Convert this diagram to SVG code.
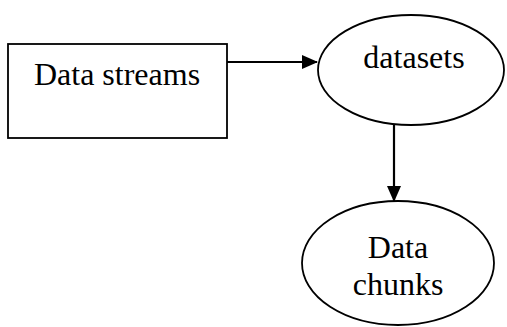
<svg xmlns="http://www.w3.org/2000/svg" width="507" height="327" viewBox="0 0 507 327">
  <style>
    .shape { fill: #ffffff; stroke: #000000; stroke-width: 1.8; }
    .label { font-family: "Liberation Serif", "Times New Roman", serif; font-size: 32px; fill: #000000; text-anchor: middle; }
    .edge { stroke: #000000; stroke-width: 2.2; fill: none; }
  </style>
  <defs>
    <marker id="arrow" markerWidth="16" markerHeight="14" refX="15" refY="7" orient="auto" markerUnits="userSpaceOnUse">
      <path d="M0,0 L16,7 L0,14 Z" fill="#000000"/>
    </marker>
  </defs>
  <rect width="507" height="327" fill="#ffffff"/>

  <g id="connectors">
    <line class="edge" x1="227" y1="62" x2="317" y2="62" marker-end="url(#arrow)"/>
    <line class="edge" x1="394" y1="125" x2="394" y2="201" marker-end="url(#arrow)"/>
  </g>

  <g id="data-streams">
    <rect class="shape" x="8" y="44" width="219" height="94"/>
    <text class="label" x="117" y="85">Data streams</text>
  </g>

  <g id="datasets">
    <ellipse class="shape" cx="411" cy="70" rx="93" ry="55"/>
    <text class="label" x="414" y="68">datasets</text>
  </g>

  <g id="data-chunks">
    <ellipse class="shape" cx="398" cy="263" rx="96" ry="62"/>
    <text class="label" x="398" y="258">Data</text>
    <text class="label" x="398" y="295">chunks</text>
  </g>
</svg>
